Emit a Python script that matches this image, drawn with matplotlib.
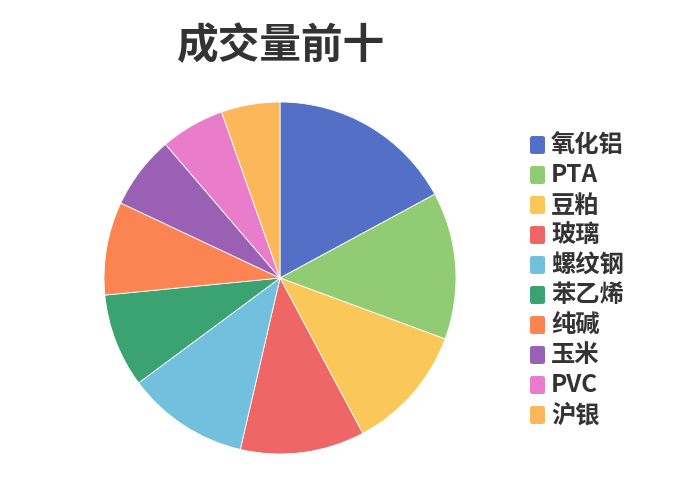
import matplotlib
matplotlib.use("Agg")
import matplotlib.pyplot as plt
from matplotlib.patches import FancyBboxPatch

plt.rcParams['font.family'] = ['Noto Sans CJK SC', 'DejaVu Sans']

# data
categories = ['氧化铝', 'PTA', '豆粕', '玻璃', '螺纹钢', '苯乙烯', '纯碱', '玉米', 'PVC', '沪银']
volumes = [61.6, 48.7, 41.7, 41.1, 40.4, 31.0, 30.8, 24.2, 21.2, 19.4]
colors = ['#5470c6', '#91cc75', '#fac858', '#ee6666', '#73c0de',
          '#3ba272', '#fc8452', '#9a60b4', '#ea7ccc', '#fcb75a']
title = '成交量前十'

W, H = 700, 500
fig = plt.figure(figsize=(7, 5), dpi=100)

# pie axes: centre ~(280, 278) px, radius ~176 px
cx, cy, r = 280, 278, 176
ax = fig.add_axes([(cx - r) / W, (H - cy - r) / H, 2 * r / W, 2 * r / H])
ax.pie(volumes, colors=colors, startangle=90, counterclock=False, radius=1,
       wedgeprops=dict(linewidth=0.6, edgecolor='white'))
ax.set_xlim(-1, 1)
ax.set_ylim(-1, 1)
ax.set_aspect('equal')
ax.axis('off')

fig.text(281 / W, 1 - 46 / H, title, ha='center', va='center',
         fontsize=30, fontweight='bold', color='#333333')

# legend, drawn by hand
y0, step = 145, 30
for i, (name, c) in enumerate(zip(categories, colors)):
    y = y0 + i * step
    box = FancyBboxPatch((530 / W, (H - y - 9) / H), 15 / W, 18 / H,
                         boxstyle='round,pad=0,rounding_size=0.004',
                         transform=fig.transFigure, facecolor=c, edgecolor='none')
    fig.patches.append(box)
    fig.text(551 / W, 1 - (y + 0.5) / H, name, ha='left', va='center',
             fontsize=17.5, fontweight='bold', color='#333333')

fig.savefig('out.png', dpi=100)
